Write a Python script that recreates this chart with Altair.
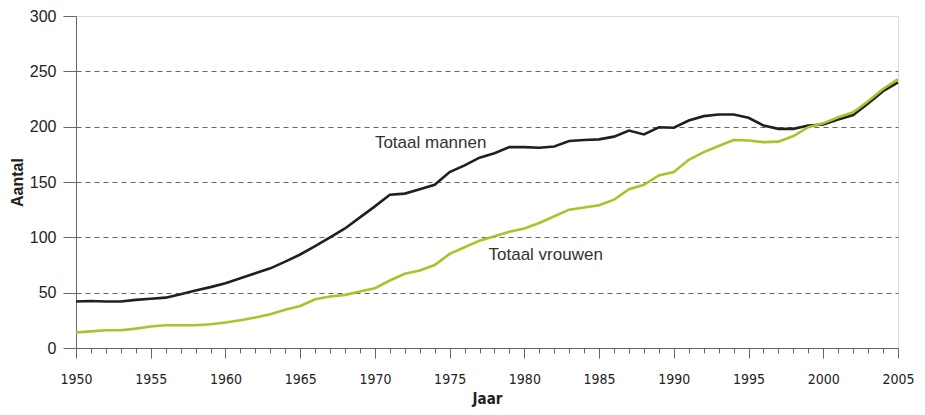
import altair as alt
import pandas as pd

years = list(range(1950, 2006))
mannen = [42, 42.5, 42, 42, 43.5, 44.5, 45.5, 48.5, 52, 55,
          58.5, 63, 67.5, 72, 78, 84.5, 92, 100, 108, 118,
          128, 138.5, 139.5, 143.5, 147.5, 159, 165, 172, 176, 181.5,
          181.5, 181, 182, 187, 188, 188.5, 191, 196.5, 193, 199.5,
          199, 205.5, 209.5, 211, 211, 208, 201, 198, 198, 201,
          202, 206.5, 210.5, 221, 232, 240]
vrouwen = [14, 15, 16, 16, 17.5, 19.5, 20.5, 20.5, 20.5, 21.5,
           23, 25, 27.5, 30.5, 34.5, 38, 44, 46.5, 48, 51,
           54, 61, 67, 70, 75, 85, 91, 97, 101, 105,
           108, 113, 119, 125, 127, 129, 134, 143.5, 147.5, 156,
           159, 170, 177, 182.5, 188, 187.5, 186, 186.5, 191.5, 199.5,
           203, 208.5, 213, 223, 234, 243]
series_names = ["Totaal mannen", "Totaal vrouwen"]
series_colors = ["#231f20", "#a8c42a"]

label_text = ["Totaal mannen", "Totaal vrouwen"]
label_year = [1970.0, 1977.6]
label_val = [185, 84]

rows = []
for y, m, v in zip(years, mannen, vrouwen):
    rows.append({"Jaar": y, "Aantal": m, "serie": series_names[0]})
    rows.append({"Jaar": y, "Aantal": v, "serie": series_names[1]})
df = pd.DataFrame(rows)
lab = pd.DataFrame({"t": label_text, "Jaar": label_year, "Aantal": label_val})

x_scale = alt.Scale(domain=[1950, 2005], nice=False, zero=False)
y_scale = alt.Scale(domain=[0, 300], nice=False)

narrow = "Liberation Sans Narrow, DejaVu Sans Condensed, Roboto Condensed, Liberation Sans"

x_axis = alt.Axis(
    title="Jaar", values=years, format="d",
    labelExpr="datum.value % 5 === 0 ? datum.label : ''",
    labelOverlap=False, labelFlush=False,
    tickSize={"condition": {"test": "datum.value % 5 === 0", "value": 10}, "value": 5},
    labelPadding=14, labelFont=narrow, labelFontSize=14,
    labelColor="#222", tickColor="#666", domainColor="#666",
    titleFont=narrow, titleFontSize=15, titleFontWeight="bold",
    titleColor="#222", titlePadding=5, grid=False,
)
y_axis = alt.Axis(
    title="Aantal", values=[0, 50, 100, 150, 200, 250, 300],
    tickSize=13, tickColor="#666", domainColor="#666",
    labelFont="Liberation Sans", labelFontSize=16, labelColor="#222", labelPadding=7,
    titleFont="Liberation Sans", titleFontSize=16, titleFontWeight="bold",
    titleColor="#222", titlePadding=4,
    grid=True, gridColor="#666", gridDash=[5, 4], gridWidth=1,
    gridOpacity={"condition": {"test": "datum.value === 0 || datum.value === 300", "value": 0}, "value": 1},
)

lines = alt.Chart(df).mark_line(strokeWidth=2.6).encode(
    x=alt.X("Jaar:Q", scale=x_scale, axis=x_axis),
    y=alt.Y("Aantal:Q", scale=y_scale, axis=y_axis),
    color=alt.Color("serie:N", scale=alt.Scale(domain=series_names, range=series_colors), legend=None),
)
texts = alt.Chart(lab).mark_text(align="left", baseline="middle", fontSize=17,
                                 font="Liberation Sans", color="#333").encode(
    x=alt.X("Jaar:Q", scale=x_scale, axis=x_axis),
    y=alt.Y("Aantal:Q", scale=y_scale, axis=y_axis),
    text="t:N",
)

chart = alt.layer(lines, texts).properties(
    width=822, height=332,
    autosize=alt.AutoSizeParams(type="none"),
    padding={"left": 68, "top": 8, "right": 19, "bottom": 59},
).configure_view(stroke="#777", strokeWidth=1).configure(background="white")

chart.save("out.html", embed_options={"renderer": "svg", "actions": False})
